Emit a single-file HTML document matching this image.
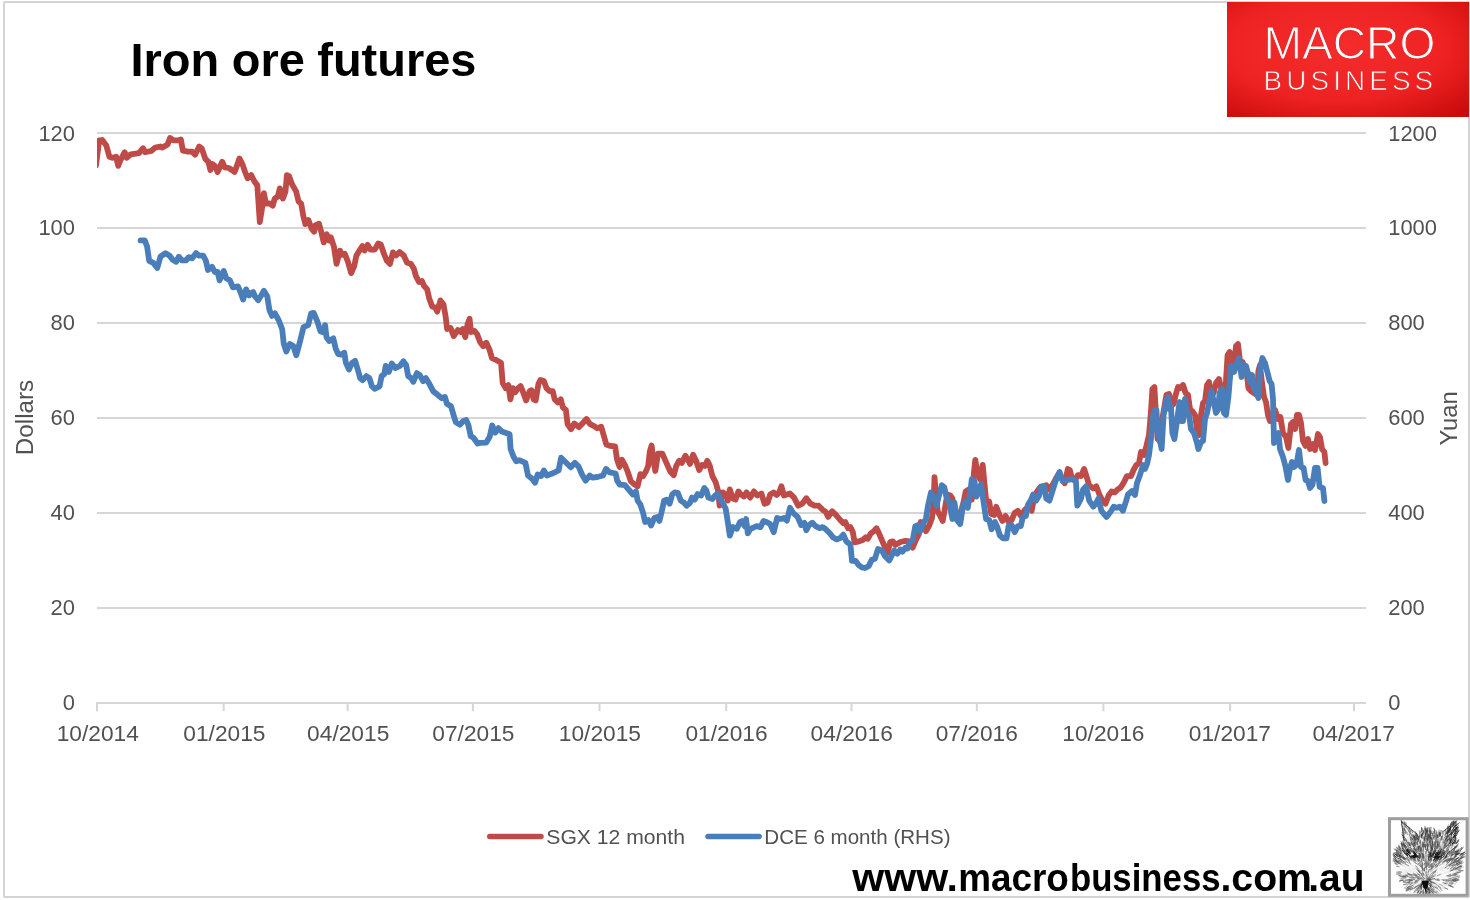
<!DOCTYPE html>
<html lang="en">
<head>
<meta charset="utf-8">
<title>Iron ore futures</title>
<style>
html,body{margin:0;padding:0;background:#fff;}
body{width:1470px;height:900px;overflow:hidden;}
svg{display:block;}
text{font-family:"Liberation Sans",sans-serif;}
</style>
</head>
<body>
<svg width="1470" height="900" viewBox="0 0 1470 900">
<defs>
<radialGradient id="lg" cx="0.45" cy="0.4" r="0.75">
<stop offset="0" stop-color="#F52D2D"/>
<stop offset="0.6" stop-color="#EE2222"/>
<stop offset="1" stop-color="#CC0C0C"/>
</radialGradient>
<clipPath id="plot"><rect x="97" y="100" width="1270" height="610"/></clipPath>
</defs>
<rect x="0" y="0" width="1470" height="900" fill="#ffffff"/>
<!-- chart border -->
<rect x="4" y="2" width="1465" height="895" rx="1" fill="none" stroke="#D4D4D4" stroke-width="2"/>

<g stroke="#D6D6D6" stroke-width="2" fill="none">
<line x1="97" y1="133" x2="1366" y2="133"/>
<line x1="97" y1="228" x2="1366" y2="228"/>
<line x1="97" y1="323" x2="1366" y2="323"/>
<line x1="97" y1="418" x2="1366" y2="418"/>
<line x1="97" y1="513" x2="1366" y2="513"/>
<line x1="97" y1="608" x2="1366" y2="608"/>
<line x1="96" y1="703" x2="1366" y2="703"/>
<line x1="97.0" y1="703" x2="97.0" y2="711.2"/>
<line x1="223.7" y1="703" x2="223.7" y2="711.2"/>
<line x1="347.6" y1="703" x2="347.6" y2="711.2"/>
<line x1="472.9" y1="703" x2="472.9" y2="711.2"/>
<line x1="599.5" y1="703" x2="599.5" y2="711.2"/>
<line x1="726.2" y1="703" x2="726.2" y2="711.2"/>
<line x1="851.5" y1="703" x2="851.5" y2="711.2"/>
<line x1="976.8" y1="703" x2="976.8" y2="711.2"/>
<line x1="1103.4" y1="703" x2="1103.4" y2="711.2"/>
<line x1="1230.1" y1="703" x2="1230.1" y2="711.2"/>
<line x1="1354.0" y1="703" x2="1354.0" y2="711.2"/>
</g>
<g fill="#515151" font-size="22px">
<text x="38.4" y="140.9" textLength="36.6" lengthAdjust="spacingAndGlyphs">120</text>
<text x="38.4" y="235.3" textLength="36.6" lengthAdjust="spacingAndGlyphs">100</text>
<text x="50.6" y="330.3" textLength="24.4" lengthAdjust="spacingAndGlyphs">80</text>
<text x="50.6" y="425.3" textLength="24.4" lengthAdjust="spacingAndGlyphs">60</text>
<text x="50.6" y="520.3" textLength="24.4" lengthAdjust="spacingAndGlyphs">40</text>
<text x="50.6" y="615.3" textLength="24.4" lengthAdjust="spacingAndGlyphs">20</text>
<text x="62.8" y="710.3" textLength="12.2" lengthAdjust="spacingAndGlyphs">0</text>
<text x="1388.2" y="140.9" textLength="48.8" lengthAdjust="spacingAndGlyphs">1200</text>
<text x="1388.2" y="235.3" textLength="48.8" lengthAdjust="spacingAndGlyphs">1000</text>
<text x="1388.2" y="330.3" textLength="36.6" lengthAdjust="spacingAndGlyphs">800</text>
<text x="1388.2" y="425.3" textLength="36.6" lengthAdjust="spacingAndGlyphs">600</text>
<text x="1388.2" y="520.3" textLength="36.6" lengthAdjust="spacingAndGlyphs">400</text>
<text x="1388.2" y="615.3" textLength="36.6" lengthAdjust="spacingAndGlyphs">200</text>
<text x="1388.2" y="710.3" textLength="12.2" lengthAdjust="spacingAndGlyphs">0</text>
<text x="56.7" y="741.3" textLength="82.2" lengthAdjust="spacingAndGlyphs">10/2014</text>
<text x="183.3" y="741.3" textLength="82.2" lengthAdjust="spacingAndGlyphs">01/2015</text>
<text x="307.1" y="741.3" textLength="82.2" lengthAdjust="spacingAndGlyphs">04/2015</text>
<text x="432.3" y="741.3" textLength="82.2" lengthAdjust="spacingAndGlyphs">07/2015</text>
<text x="558.8" y="741.3" textLength="82.2" lengthAdjust="spacingAndGlyphs">10/2015</text>
<text x="685.4" y="741.3" textLength="82.2" lengthAdjust="spacingAndGlyphs">01/2016</text>
<text x="810.6" y="741.3" textLength="82.2" lengthAdjust="spacingAndGlyphs">04/2016</text>
<text x="935.7" y="741.3" textLength="82.2" lengthAdjust="spacingAndGlyphs">07/2016</text>
<text x="1062.3" y="741.3" textLength="82.2" lengthAdjust="spacingAndGlyphs">10/2016</text>
<text x="1188.8" y="741.3" textLength="82.2" lengthAdjust="spacingAndGlyphs">01/2017</text>
<text x="1312.6" y="741.3" textLength="82.2" lengthAdjust="spacingAndGlyphs">04/2017</text>
</g>
<text transform="translate(32.9,455.2) rotate(-90)" fill="#515151" font-size="23.5px" textLength="75.4" lengthAdjust="spacingAndGlyphs">Dollars</text>
<text transform="translate(1457.3,445.4) rotate(-90)" fill="#515151" font-size="23.5px" textLength="54" lengthAdjust="spacingAndGlyphs">Yuan</text>
<g clip-path="url(#plot)">
<polyline points="96,165.5 99.2,140.4 102.2,140 106.3,145.5 109.4,156.7 112.4,157.8 116.1,156.7 118.2,165.9 120.6,159.8 124.7,152.2 126.7,157.8 130.8,154.3 139,153.1 143.1,148.2 145.1,152.2 151.2,151 155.3,147.6 160.4,146.5 162.4,147.6 167.6,144.5 170,138 173.7,140.4 177.8,140.4 180.8,139.4 182.9,150.6 188,151.6 192,151.6 195.1,154.7 199.2,146.5 201.8,148.6 205.3,158.8 208.4,161.8 210.4,170 212.4,163.9 214.9,165.9 217.6,172 222.2,161.8 224.7,167.3 228.8,168 231.8,170 234.5,172 236.9,165.9 239.4,158.4 242.7,164.9 245.1,172 247.6,178.2 251.2,175.1 254.3,181.2 257.3,185.3 259.8,222 261.8,209.8 263.9,193.1 265.9,203.7 269.6,203.3 272.7,205.7 274.7,198.6 277.8,196.5 279.8,188.4 282.9,198.6 285.5,191.4 286.9,175.1 289,176.1 292,184.3 296.1,191.4 298.6,201.6 301.2,203.7 303.3,215.9 305.3,224.1 308.4,220 311.4,228.2 314.1,231.8 315.5,225.1 319,223.7 321.6,233.3 323.7,242.4 326.7,234.3 328.8,240.4 330.8,237.3 333.9,246.5 336.5,263.9 340,250.6 342,254.7 344.7,253.7 347.6,260.8 351.2,273.1 354.3,265.9 356.3,255.7 359.4,250.6 362.4,246.1 364.5,250.6 367.6,244.9 370.6,249.6 374.7,249.6 378.2,243.5 380.8,244.5 383.9,253.7 386.9,260.8 390,263.9 392.9,252.4 396.1,255.5 399.6,252 403.7,255.5 407.1,262.7 410.8,263.7 413.9,268.8 415.9,275.9 419,282 422,281 424.1,286.1 427.1,289.2 429.2,298.4 432.2,306.5 435.3,307.6 437.3,311.6 440.4,300.4 443.5,304.5 445.5,315.7 447.1,329 450.6,328 453.7,336.1 457.8,330 460.8,332 462.9,329 465.3,337.1 467.6,323.9 469.6,318.8 471,332 474.5,331 477.1,334.1 480.2,342.2 483.3,346.3 486.3,342.7 489.4,349.4 492,358.2 496.5,360.2 501,362.7 502.7,383.1 505.7,388.2 508.4,385.1 510.4,399.4 512.9,388.2 515.3,392.2 518,388.2 520.6,386.1 523.1,392.2 526.1,400.4 529.6,391.2 531.6,390.2 533.7,399.4 535.7,400.4 538.4,384.1 540.4,380 543.9,381 546.5,388.2 549.6,391.2 552.7,391.2 554.7,399.4 557.8,402.4 560.8,399.4 562.9,407.6 565.9,410 567.6,424.1 571,429.2 574.3,423.5 578.8,427.1 582.4,423.5 586.5,419 590,424.1 594.1,426.1 597.1,428.2 601.2,426.7 603.7,435.3 606.3,444.5 610.4,445.9 615.1,446.5 617.1,459.8 619.6,466.9 622,459.8 625.3,465.9 627.8,472 630.8,481.2 634.3,484.3 637.6,486.3 640.4,474.1 643.1,476.1 646.1,471 648.2,465.9 649.8,451.6 651.6,445.5 653.3,459.8 655.3,471 658,453.7 662.4,453.7 665.5,460.8 668.2,466.9 670.6,472 673.7,475.1 676.3,465.9 679.2,460.8 681.8,462.9 685.3,455.7 688,459.8 690,463.9 693.1,454.7 696.1,460.8 699.2,470 702.2,464.9 704.9,465.9 707.3,460.8 709.8,465.9 712.4,476.1 715.5,481.8 718,490.4 719.6,505.7 722.7,492.4 725.7,494.5 727.8,500.6 729.8,489.4 732.9,498.6 735.5,499.6 738.4,491.4 741,494.5 744.1,496.5 746.5,492.4 750.2,497.6 753.9,491.4 757.3,495.5 761.4,493.5 764.5,503.7 767.6,502.7 770.2,494.5 773.7,492.4 776.7,494.9 779.2,492.4 781.4,486.3 783.9,495.5 786.5,494.5 790,493.5 794.1,497.6 798.2,505.7 802.2,503.7 806.3,498.2 810.4,503.7 814.5,505.7 818.6,505.7 822.7,509.8 825.7,511.8 828.2,516.9 832.2,511.2 835.9,514.9 840.2,520 843.3,523.1 845.3,522 848,528.2 850.4,527.1 852.9,532.2 854.5,542.4 858.6,541.4 862.7,540 865.7,537.3 867.8,538.8 870.8,533.3 873.9,531.2 876.5,528.2 879,533.3 882,540.4 885.1,547.6 887.6,552.7 890.2,542 892.9,541.4 895.3,544.9 900.4,542 905.5,540.8 909.6,541.4 912.7,547.6 915.7,540.4 918.8,534.3 920.8,522 922.9,524.1 925.9,531.2 929,526.1 932,518 933.7,501.6 934.5,477.1 936.1,497.6 937.8,511.8 940.2,515.9 942.7,521 944.7,509.8 947.3,494.5 950.4,495.5 952.4,498.6 954.9,509.8 957.6,515.9 960.6,512.9 963.7,501.6 965.7,491.4 968.8,489.4 971.8,499.6 973.9,473.1 975.3,459.8 977.3,473.1 980,479.2 982.7,464.9 984.1,479.2 986.1,500.6 989.2,501.6 991.2,513.9 994.3,514.9 996.3,506.7 999.4,514.9 1002.4,521 1005.5,515.9 1008.6,522 1011.6,520 1014.7,512.9 1017.8,510.8 1020.8,515.9 1024.9,509.8 1029,505.7 1031.6,510.8 1034.1,498.6 1037.1,491.4 1040.2,487.3 1043.3,486.3 1046.3,485.3 1049.4,489.4 1052.4,485.3 1055.5,479.2 1058.6,474.1 1061.6,478.2 1064.7,483.3 1067.8,469 1069.8,470 1071.8,478.2 1074.9,480.2 1078,475.1 1081,476.1 1084.1,469 1086.7,477.1 1089.2,485.3 1093.3,488.4 1096.3,486.3 1099.4,494.5 1102.4,500.6 1105.5,503.7 1108.6,495.5 1111.6,491.4 1114.7,492.4 1117.8,489.4 1120.8,487.3 1123.9,482.2 1126.9,476.1 1131,476 1134,469 1136.4,465 1139,463 1141,452 1144,455 1146.4,446 1149,435 1151,411 1152.4,389 1154.4,387 1156,415 1157.6,439 1159.6,441 1161.6,423 1164,409 1166.4,395 1169,394 1171,403 1173.6,404 1175.6,395 1178,387 1180.4,388 1183,385 1185.6,393 1188,395 1190,409 1193,412 1195,415 1197,429 1199,435 1201,415 1203,403 1205,401 1207,385 1209,382 1211,395 1213.6,393 1216,383 1219,379 1221,388 1223,395 1225.6,387 1227.6,355 1229.6,352 1231.6,367 1233.6,369 1236,346 1238,344 1240,361 1242.4,362 1245,368 1247,375 1248.4,388 1251,391 1254,393 1257,395 1258.4,371 1260,365 1262,383 1264,397 1266,402 1268,415 1270,421 1272.4,413 1275,410 1278,419 1280.4,417 1283,433 1286,437 1288.4,448 1291,424 1293,422 1295,429 1297,415 1299,415 1301,423 1303,441 1305.6,446 1308,439 1310,449 1313,444 1315,450 1318,434 1320,437 1322,449 1324.4,452 1325.6,463" fill="none" stroke="#BE4B48" stroke-width="5.8" stroke-linejoin="round" stroke-linecap="round"/>
<polyline points="140.6,240.4 144.7,240.4 147.1,246.5 149.2,260.8 153.3,262.9 157.3,268 160.4,256.7 165.5,253.1 169.6,255.7 172.7,259.8 176.1,261.8 178.8,256.7 181.8,260.4 185.9,260.4 189,257.1 192,258.4 196.1,253.1 199.2,255.7 203.3,255.7 205.9,260.8 208,270 212,266.9 214.9,272 217.6,272 219.6,280.2 223.7,271 226.3,278.2 229.8,280.2 232.9,287.3 238,286.3 241,293.5 243.1,299.6 246.1,289.4 249.2,295.5 250,293.5 253.1,292 255.1,296.5 258.2,300.2 261.2,295.5 263.9,290.8 267.3,296.5 269.4,309.8 272,315.9 274.9,313.3 278.6,320 282.2,329.2 283.7,343.5 286.3,351.6 289.8,343.9 293.3,345.9 296.3,355.3 300,341.4 303.5,327.1 308.2,325.1 311.2,313.3 313.7,312.9 317.3,321.4 320.4,331.2 323.1,332.2 325.1,325.1 326.5,337.3 329.2,341 333.3,338.4 335.7,348.6 338.2,354.1 341.4,354.7 344.3,352.7 345.9,362.9 349,369.6 352,362.9 355.1,360.8 358.2,371 360.2,378.2 362.7,380.2 366.3,376.1 369.4,378.2 372,386.3 374.5,388.8 379.6,386.3 381.6,376.1 384.3,374.1 385.7,365.9 388.8,372 391.8,363.5 395.3,368 400,365.9 403.5,361.4 406.1,364.9 408.2,376.1 411.2,378.2 413.3,381.8 416.9,373.1 419.8,375.1 423.1,381.2 425.9,378.2 429.6,384.3 433.3,391.4 437.8,394.9 441.8,398.2 444.9,396.9 446.9,403.7 451,406.3 454.1,416.9 455.7,422 459.8,424.7 463.3,421 466.3,420 468.4,425.1 470.8,436.3 473.5,437.8 477.6,443.5 480,442.9 486.1,442.7 489.7,436.7 492.2,425.5 495.3,432.7 498.4,428.1 501.9,431.6 509.6,434.2 510.6,449 513.7,457.1 516.2,461.2 519.3,460.2 525.4,462.8 528,475.5 532,478.6 535.1,482.7 537.7,474.5 541.2,476 543.8,470.4 546.8,475.5 553.5,473 558.6,470.4 561.1,457.7 565.7,462.2 570.8,467.3 574.9,462.8 578.5,466.3 582,474.5 585.6,480.6 589.7,475.5 592.2,477.6 597.3,477 603,475.5 606,468.9 609.6,472.4 615.7,473.5 617.2,480.6 619.8,484.7 624.9,485.2 632.9,494.5 635.9,491.4 637.6,500.6 640.4,504.7 643.1,512.9 645.1,522 648.2,520 651.2,525.5 654.3,518 657.3,516.9 659.4,521 661.4,512.9 664.1,500.6 666.5,499.6 669.6,503.7 672.2,494.5 674.7,492.4 677.8,492.9 680.8,500.6 683.9,502.7 686.5,505.7 690,502.7 692,497.6 694.7,499.6 697.6,494.1 701.2,495.5 704.3,488 706.3,490.4 708.4,497.6 712.4,499 715.1,495.5 717.6,493.5 720.6,499.6 723.3,503.7 725.7,508.8 727.8,522 729.8,535.7 732.9,527.1 736.9,528.8 740,522 742,521 744.7,526.1 746.1,519 747.8,533.3 750.2,529.2 753.3,527.6 756.7,526.1 760.4,527.1 763.5,521 766.5,522 770.2,524.1 773.7,532.2 777.1,518 780.8,519 783.9,518 786.9,520.6 790,507.8 793.1,512.9 797.6,516.9 801.2,525.1 804.3,522.7 806.3,530.2 809,525.1 812.4,522.7 815.5,526.1 819.6,528.2 822.7,527.1 825.7,529.2 829.8,533.3 832.9,537.3 836.3,539.4 840.2,538 843.3,534.7 846.3,541.4 850.4,544.5 852,560.8 855.5,560.8 858.6,564.9 861.6,567.3 865.1,568 868.8,565.9 871.8,559.8 874.9,558.8 878,549 882,550.6 885.1,556.3 889.2,560.4 892.2,554.7 894.3,550.6 897.3,553.7 900.4,549.6 902.4,551.6 905.5,547.6 907.6,548.6 909.6,542.4 912.7,540.4 915.3,526.1 917.8,525.1 920.2,531.2 922.9,524.1 925.9,519 928,505.7 931,492.4 934.1,498.6 936.5,505.7 939.2,494.5 941.8,485.3 944.3,487.3 946.3,496.5 949.4,503.7 952.4,519 954.5,502.7 956.9,520 960.2,524.1 962.7,507.8 965.1,501.6 967.8,507.8 970.4,491.4 971.8,479.2 974.5,481.2 976.5,496.5 979,490.4 981,484.3 983.5,501.6 986.1,519 989.2,520 991.6,529.2 994.9,522 997.3,527.1 999.8,535.3 1003.1,538.4 1006.5,538.4 1008.6,526.1 1011.6,525.1 1014.7,532.2 1017.8,526.1 1020.8,526.1 1022.9,516.9 1025.9,515.9 1028,504.7 1031,499.6 1033.1,494.5 1036.1,500.6 1039.2,495.5 1041.2,486.3 1044.3,486.3 1046.3,498.6 1049.4,500.6 1052.4,491.4 1055.5,481.2 1059.6,472 1062.7,481.2 1066.7,480.2 1071.8,479.2 1075.9,481.2 1077.3,505.7 1081,498.6 1083.1,489.4 1086.1,486.3 1089.2,500.6 1093.3,506.7 1096.3,502.7 1098.4,498.6 1101.4,510.8 1106.5,516.9 1110.6,511.8 1113.7,506.7 1116.7,507.8 1119.8,506.7 1122.9,510.8 1125.9,501.6 1128,494.5 1132,491 1135,495 1137,483 1140,475 1143,465 1145,469 1147,464 1149,455 1151,439 1153,415 1155,410 1156.4,410 1158,433 1160,441 1161.6,449 1163.6,415 1166,403 1168,397 1169.6,409 1171,407 1172.4,433 1174.4,439 1177,421 1179.6,402 1181.6,421 1183,421 1185,399 1187,414 1189,415 1191,429 1194,433 1197,443 1198.4,449 1201,442 1203,441 1205,419 1207,413 1209,403 1211.6,391 1213.6,401 1216,413 1218,410 1219.6,393 1222,389 1224,413 1226,415 1228.4,397 1231,366 1234,372 1236.4,365 1239,358 1241.6,377 1243.6,365 1246,366 1248,373 1250,382 1252,375 1254,389 1256,392 1258.4,398 1260,371 1262.4,358 1265,363 1267.6,373 1269.6,381 1271.6,384 1273,399 1274,443 1276,435 1278.4,433 1280,449 1283,457 1285.6,467 1288,480 1290,468 1292,462 1294,467 1296.4,465 1299,450 1301,467 1303.6,468 1305.6,480 1308,481 1310,488 1312.4,485 1315,468 1317.6,468 1319.6,487 1323,488 1324.4,501" fill="none" stroke="#4A7EBB" stroke-width="5.8" stroke-linejoin="round" stroke-linecap="round"/>
</g>
<text y="75.9" font-size="45.3px" font-weight="bold" fill="#000"><tspan x="130.46" textLength="88.76" lengthAdjust="spacingAndGlyphs">Iron</tspan> <tspan x="231.87" textLength="73.04" lengthAdjust="spacingAndGlyphs">ore</tspan> <tspan x="317.3" textLength="159.13" lengthAdjust="spacingAndGlyphs">futures</tspan></text>
<line x1="489.7" y1="836.5" x2="541" y2="836.5" stroke="#BE4B48" stroke-width="5.4" stroke-linecap="round"/>
<text x="546.3" y="844" font-size="21px" fill="#515151" textLength="138.7" lengthAdjust="spacingAndGlyphs">SGX 12 month</text>
<line x1="708" y1="836.5" x2="759.2" y2="836.5" stroke="#4A7EBB" stroke-width="5.4" stroke-linecap="round"/>
<text x="764.3" y="844" font-size="21px" fill="#515151" textLength="186.2" lengthAdjust="spacingAndGlyphs">DCE 6 month (RHS)</text>
<text y="890.8" font-size="39.5px" font-weight="bold" fill="#000"><tspan x="852.22" textLength="105.77" lengthAdjust="spacingAndGlyphs">www.</tspan><tspan x="958.17" textLength="110.67" lengthAdjust="spacingAndGlyphs">macro</tspan><tspan x="1069.91" textLength="150.62" lengthAdjust="spacingAndGlyphs">business</tspan><tspan x="1220.44" textLength="91.49" lengthAdjust="spacingAndGlyphs">.com</tspan><tspan x="1308.26" textLength="56.2" lengthAdjust="spacingAndGlyphs">.au</tspan></text>
<rect x="1227" y="2" width="242" height="115" fill="url(#lg)"/>
<text x="1263.4" y="59.2" font-size="45.4px" fill="#fff" stroke="#EE2323" stroke-width="1.0" textLength="172" lengthAdjust="spacingAndGlyphs">MACRO</text>
<text x="1263.6" y="89.7" font-size="27.9px" fill="#fff" stroke="#EA2020" stroke-width="0.75" textLength="169.6" lengthAdjust="spacing">BUSINESS</text>
<g id="fox">
<rect x="1389.5" y="818.7" width="77.6" height="76.6" fill="#ffffff" stroke="#9E9E9E" stroke-width="3"/>
<clipPath id="foxclip"><rect x="1391" y="820.2" width="74.6" height="73.6"/></clipPath>
<g clip-path="url(#foxclip)">
<polygon points="1401.5,821.2 1407.5,827.0 1414.0,833.5 1418.5,834.0 1423.0,830.0 1430.0,830.5 1438.0,831.5 1442.0,833.5 1449.0,825.0 1456.5,821.2 1457.0,830.0 1456.0,840.0 1457.5,848.0 1461.0,848.0 1463.5,854.0 1462.5,862.0 1460.5,870.0 1456.5,879.0 1450.0,886.5 1441.0,890.0 1432.0,893.2 1425.5,894.2 1420.0,893.0 1410.0,889.0 1403.5,882.5 1399.0,875.0 1398.5,866.5 1394.0,862.0 1395.2,855.5 1397.8,848.5 1401.5,845.0 1404.5,843.0 1402.5,833.0" fill="#ededed"/>
<path d="M1438.7 882.1L1440.9 883.0M1407.5 885.0L1403.9 886.2M1416.0 870.2L1414.2 868.9M1409.9 885.2L1407.6 885.5M1433.7 872.3L1436.1 870.7M1409.1 834.6L1407.5 831.4M1404.0 864.0L1402.4 862.8M1446.5 883.6L1449.9 884.6M1407.4 827.8L1406.2 825.6M1445.9 886.8L1448.7 888.9M1412.2 873.5L1408.4 873.2M1438.3 873.0L1440.0 872.0M1449.8 868.2L1452.7 867.8M1415.9 865.6L1414.1 862.3M1436.7 871.8L1439.1 870.9M1444.9 875.7L1447.9 875.5M1449.7 872.8L1452.9 871.2M1403.6 868.2L1399.6 867.4M1446.2 867.4L1449.6 866.2M1435.3 871.5L1437.9 869.7M1411.9 875.1L1408.6 873.3M1439.5 878.0L1441.3 878.4M1446.8 868.6L1449.1 867.9M1435.7 874.8L1438.7 874.0M1439.2 880.9L1441.4 881.5M1438.8 867.2L1442.5 864.9M1413.5 865.5L1411.9 862.6M1414.6 879.9L1411.5 880.2M1413.6 867.9L1410.6 865.4M1410.8 837.4L1410.3 835.6M1406.7 867.2L1404.4 864.5M1416.4 873.4L1414.5 872.6M1411.0 835.2L1409.0 832.2M1412.7 882.2L1408.8 882.3M1443.1 870.1L1445.8 868.8M1450.9 870.8L1454.4 868.8M1438.0 867.5L1441.5 865.3M1416.3 884.5L1412.8 886.4M1409.9 876.4L1407.9 876.5M1419.4 869.6L1418.2 867.3M1411.6 861.8L1410.0 859.7M1420.7 869.7L1419.8 866.1M1444.1 875.0L1447.9 874.7M1441.7 872.9L1443.6 872.7M1438.1 871.7L1441.7 870.7M1442.9 865.9L1446.3 863.7M1406.0 880.4L1403.5 879.9M1438.4 888.3L1442.0 889.6M1447.7 869.7L1451.4 867.8M1441.0 878.2L1443.6 878.3M1443.5 877.4L1447.8 878.2M1419.7 866.1L1419.0 862.6M1403.5 871.4L1400.0 870.8M1409.8 884.7L1406.7 886.2M1438.0 869.4L1440.4 866.3M1419.2 872.7L1417.4 870.6M1408.7 869.7L1406.4 868.3M1438.8 882.4L1440.9 883.5M1406.2 834.9L1405.1 831.4M1407.4 863.6L1406.3 861.9M1435.0 881.4L1439.0 881.6M1412.5 870.2L1410.3 868.2M1444.0 875.0L1447.9 873.4M1404.7 868.0L1401.2 867.2M1405.3 869.6L1403.0 868.7M1446.4 875.6L1449.0 874.7M1437.9 882.7L1441.6 883.4M1416.6 864.8L1415.4 862.5M1410.5 862.1L1407.6 859.0M1415.0 864.0L1414.3 862.0M1415.0 873.5L1412.0 872.7M1400.7 869.4L1397.4 867.8M1448.6 869.6L1450.8 868.3M1445.6 870.7L1448.7 868.7M1441.4 875.7L1445.5 874.6M1410.0 882.7L1406.1 882.8M1440.3 877.0L1443.9 877.0M1408.7 829.7L1407.5 827.6M1437.3 884.1L1439.9 885.7M1447.8 875.9L1449.9 876.2M1442.9 874.3L1445.9 874.3M1435.4 880.7L1437.7 881.7M1435.4 877.8L1439.3 878.1M1414.7 865.7L1412.2 863.7M1405.5 835.2L1404.0 832.8M1444.5 881.5L1446.6 881.6M1445.1 871.5L1447.5 870.5M1433.9 870.4L1435.9 866.9M1410.7 864.2L1409.3 861.7M1451.7 872.2L1454.1 871.7M1408.6 878.7L1406.7 878.1M1448.2 885.0L1450.2 886.2M1410.4 864.6L1408.2 862.9M1436.7 877.5L1440.1 876.4M1414.8 866.2L1413.2 864.5M1401.1 866.5L1399.4 865.6M1410.1 867.5L1407.9 865.3M1410.7 865.4L1407.7 863.9M1408.4 865.8L1405.1 863.5M1446.1 877.5L1448.6 877.8M1409.3 835.5L1408.6 832.2M1414.7 864.7L1413.0 862.4M1448.0 870.3L1451.0 868.7M1449.2 876.0L1453.5 875.2M1439.4 880.9L1443.7 881.9M1446.4 886.9L1450.6 887.1M1415.0 882.9L1411.2 883.4M1445.7 878.2L1449.1 879.0M1444.5 869.9L1447.9 868.9M1401.7 870.6L1399.0 869.7M1408.7 864.1L1406.3 860.5M1411.9 864.3L1410.1 861.6M1406.6 838.0L1406.0 833.8M1435.6 875.8L1438.3 875.3M1400.1 870.8L1396.5 869.4M1410.9 874.9L1408.9 874.6M1436.2 875.6L1439.4 873.6M1439.1 873.9L1442.8 871.5M1433.8 872.7L1435.3 871.8M1412.6 867.7L1409.0 865.5M1444.0 882.4L1446.1 883.2M1441.9 876.3L1445.1 875.4" stroke="#ffffff" stroke-width="0.8" fill="none" stroke-linecap="round"/>
<path d="M1441.3 864.6L1443.0 863.2M1415.5 877.6L1413.0 877.3M1436.3 866.1L1437.9 864.1M1452.3 870.1L1455.6 869.2M1412.8 833.6L1412.0 830.6M1398.9 872.3L1396.8 871.8" stroke="#e0e0e0" stroke-width="0.8" fill="none" stroke-linecap="round"/>
<path d="M1432.2 885.7L1433.6 887.8M1416.7 860.9L1414.2 858.1M1456.4 869.6L1460.3 868.4M1448.0 865.6L1449.6 864.1M1420.9 888.1L1420.5 890.1M1433.6 886.0L1435.9 887.8M1457.7 867.5L1459.7 866.0M1397.5 865.0L1395.6 864.5M1421.6 863.0L1421.3 860.8M1411.5 860.3L1410.2 857.8M1459.1 867.4L1463.3 867.0M1456.2 871.6L1460.4 871.8M1423.4 874.5L1422.1 871.3M1431.4 871.5L1432.9 870.5M1404.4 834.2L1404.0 832.0M1453.5 868.8L1456.0 867.6M1422.6 868.7L1421.7 864.9M1451.1 868.6L1454.1 866.4M1401.3 875.2L1399.4 875.0M1424.6 863.0L1424.8 858.7M1401.4 878.6L1399.6 878.2M1420.5 883.9L1418.3 885.8M1408.8 845.2L1407.5 842.8M1447.1 865.5L1449.6 864.7M1431.7 887.7L1433.5 891.8M1457.6 865.0L1459.5 864.6M1408.5 860.8L1406.0 857.6M1441.1 846.0L1441.0 843.7M1427.3 863.5L1427.0 859.3M1418.8 877.7L1416.0 876.9M1401.1 875.4L1398.9 875.1M1400.4 874.2L1398.2 873.6M1422.4 864.8L1421.5 863.1M1419.6 879.5L1416.0 879.1M1452.5 883.5L1455.6 884.0M1457.9 870.7L1460.9 870.0M1441.9 849.0L1441.7 847.0M1444.3 846.3L1446.4 843.7M1407.9 861.0L1404.5 858.8M1412.2 840.5L1410.1 837.2M1416.8 876.2L1413.6 874.2M1448.8 882.1L1452.0 881.8M1441.0 847.8L1440.9 845.1M1430.8 869.7L1431.6 868.1M1432.9 868.0L1435.4 865.3M1415.9 860.8L1414.8 858.2M1419.0 887.2L1415.4 889.8M1412.4 837.0L1411.5 834.3M1418.4 890.7L1417.4 894.0M1417.2 876.2L1413.6 873.8" stroke="#c0c0c0" stroke-width="0.8" fill="none" stroke-linecap="round"/>
<path d="M1405.5 846.2L1403.0 842.5M1399.4 861.9L1397.4 860.0M1422.9 847.4L1422.5 845.1M1429.9 836.2L1430.3 831.9M1428.9 867.7L1430.7 864.2M1446.5 881.0L1448.9 881.8M1424.0 857.3L1423.6 854.2M1417.8 882.0L1414.1 884.4M1448.5 864.7L1451.3 863.5M1457.2 876.2L1459.1 876.3M1441.7 879.5L1443.7 879.7M1427.5 856.7L1427.2 854.3M1446.9 850.4L1448.4 848.6M1428.5 837.3L1428.5 835.1M1421.3 836.7L1420.9 834.8M1421.3 886.8L1418.7 890.4M1413.4 846.9L1411.0 843.2M1408.4 847.2L1407.5 844.4M1427.0 891.0L1427.5 893.5M1423.9 857.2L1422.8 853.4M1445.3 881.3L1449.4 881.1M1455.9 867.9L1459.3 867.0M1407.4 885.7L1404.1 888.1M1402.2 865.0L1399.5 862.7M1419.4 879.8L1417.5 879.8M1456.2 868.9L1457.8 867.7M1450.4 879.2L1452.7 879.6M1445.0 839.3L1445.6 836.2M1455.8 878.4L1459.7 877.1M1410.4 875.5L1408.3 874.4M1446.9 835.7L1448.6 832.6M1455.1 876.4L1457.6 876.0M1433.3 873.4L1435.4 872.4M1434.8 868.4L1438.0 865.7M1441.6 849.9L1442.2 847.2M1416.6 890.0L1414.7 892.8M1417.7 878.0L1415.3 877.1M1428.3 845.6L1428.1 843.2M1414.4 861.9L1413.6 859.5M1434.8 836.8L1434.2 833.8M1429.2 834.5L1428.7 830.8M1429.7 875.2L1431.2 873.8M1419.9 875.9L1416.9 872.8M1403.6 834.3L1402.8 832.1M1430.1 882.6L1432.2 884.3M1442.8 863.2L1445.7 860.0M1445.9 833.2L1447.7 831.0M1426.0 861.2L1426.1 858.6M1428.2 842.0L1428.5 839.8M1426.3 867.0L1427.5 862.9M1458.3 870.1L1460.4 870.1M1447.1 869.0L1448.9 868.4M1442.3 849.9L1444.0 848.0M1444.2 845.4L1445.8 842.9M1430.9 867.5L1431.9 863.8M1434.2 861.7L1435.2 859.4M1437.2 884.9L1438.9 886.3M1445.8 846.1L1448.3 842.9M1400.9 861.3L1397.0 859.6M1396.4 862.1L1393.5 859.5M1417.7 888.4L1416.7 890.5M1405.4 840.8L1403.7 838.5M1407.7 874.8L1405.7 874.9M1458.3 862.4L1460.9 860.1M1447.3 827.8L1448.5 824.7M1424.2 831.4L1424.6 829.2M1409.6 860.7L1406.7 857.2M1430.8 882.5L1435.0 883.9M1417.0 851.2L1416.6 848.7M1455.3 879.9L1457.7 880.1M1422.2 862.0L1421.4 858.5M1414.2 878.2L1411.4 878.1M1443.5 848.4L1444.3 846.6M1425.7 872.8L1426.0 871.0M1436.4 850.8L1436.1 848.6M1417.9 890.1L1417.1 892.7M1455.9 822.3L1457.7 818.8M1438.5 889.6L1440.7 892.2M1421.2 878.4L1417.0 877.4M1408.8 847.0L1407.8 844.6M1406.1 864.2L1404.3 862.4M1431.8 851.9L1432.4 848.3M1420.4 891.5L1419.2 893.7M1405.3 863.2L1403.4 862.0M1414.7 849.2L1414.5 846.9M1421.4 849.3L1420.8 845.1M1404.6 876.5L1401.0 875.9M1433.4 847.0L1433.1 845.0M1432.1 876.2L1435.7 874.5M1453.2 870.0L1456.3 868.7M1425.0 861.7L1423.8 857.9M1408.5 882.5L1406.1 882.7M1424.0 892.0L1423.5 894.2M1432.8 867.0L1433.9 864.5M1419.3 885.8L1418.0 888.1M1426.1 877.3L1426.2 875.0M1439.3 884.1L1442.6 885.7M1426.8 831.5L1426.3 829.2M1421.3 878.7L1417.5 878.2M1443.3 834.8L1443.9 831.7M1405.3 833.1L1404.7 829.3M1409.2 876.3L1405.4 876.3M1424.4 871.3L1424.5 867.5M1438.7 864.4L1441.3 861.8M1409.7 883.6L1406.5 884.9M1455.6 876.9L1459.7 875.9M1412.4 888.7L1409.8 891.7M1453.6 869.1L1455.4 868.7M1453.3 875.4L1457.4 874.1M1422.7 873.0L1422.1 870.6M1407.4 834.6L1407.0 832.5M1406.8 842.4L1406.1 840.5M1405.5 878.3L1401.5 878.9M1410.1 834.0L1409.7 831.9M1452.4 877.3L1454.9 877.1M1444.6 847.1L1446.7 845.1M1418.3 860.0L1417.5 857.1M1444.0 887.7L1448.0 889.6M1449.2 866.9L1452.2 865.2M1438.7 862.1L1440.4 859.2M1431.9 890.7L1432.6 893.8M1428.8 859.7L1429.8 856.3M1452.4 865.6L1456.0 864.2M1456.5 855.5L1458.2 854.3M1413.5 886.6L1410.0 889.0M1415.2 844.9L1414.7 842.0M1444.2 846.6L1445.9 843.2M1426.8 877.6L1428.3 874.6M1424.6 893.7L1425.2 896.1M1409.3 849.5L1407.9 846.5M1413.0 876.8L1410.9 876.6M1426.8 858.2L1426.3 854.5M1419.8 878.8L1417.5 879.2M1446.6 851.3L1448.1 849.1M1430.3 843.1L1430.3 840.7M1430.0 831.2L1429.7 828.8M1442.2 864.1L1444.2 861.7M1420.0 851.3L1421.0 847.2M1429.8 834.9L1430.4 830.5M1435.1 867.1L1436.4 865.4M1433.4 888.4L1435.0 889.7M1407.1 845.5L1406.1 843.9M1420.3 844.2L1420.1 839.9M1426.6 877.2L1428.1 874.1M1423.3 864.7L1421.9 862.0M1415.3 838.3L1414.1 834.3M1405.4 840.4L1404.4 836.7M1403.0 834.7L1401.9 832.8M1424.9 834.9L1424.5 831.4M1414.0 884.8L1410.1 886.8M1444.3 846.7L1446.4 843.4M1429.8 840.9L1429.4 837.1M1410.6 860.3L1408.4 858.0M1423.5 892.3L1422.7 894.2M1408.6 831.9L1408.0 829.4M1427.8 847.6L1428.1 844.5M1454.9 858.0L1456.4 856.6M1406.6 828.0L1405.7 824.3M1408.6 829.0L1407.3 826.1M1404.5 824.9L1404.0 821.4M1400.9 864.2L1396.9 862.5M1422.5 866.7L1421.9 864.9M1456.8 852.3L1459.7 848.9M1413.5 846.5L1412.8 842.9M1411.9 859.8L1410.4 857.3M1407.8 880.0L1405.2 879.8M1406.8 843.4L1405.6 839.2M1429.2 832.7L1429.3 830.1M1430.7 887.0L1432.5 889.4M1425.3 862.3L1425.3 857.9M1423.4 893.2L1422.4 895.4M1461.1 864.2L1463.7 862.2M1425.9 879.2L1428.3 881.4M1428.4 860.5L1428.2 858.1M1426.1 891.8L1426.3 894.7M1439.1 835.3L1440.0 831.0M1426.5 842.2L1426.8 840.2M1421.0 838.0L1420.5 835.9M1456.9 869.7L1460.1 869.3M1423.4 860.6L1424.1 856.8M1431.4 873.5L1435.4 871.5M1395.3 862.0L1392.7 861.0M1445.6 861.2L1448.7 858.4M1454.9 848.1L1456.7 847.0M1421.6 874.0L1418.7 871.1M1457.4 868.2L1461.8 867.9M1403.1 823.3L1401.3 819.7M1421.3 844.7L1420.5 841.5M1407.4 882.5L1403.0 882.1M1439.4 842.7L1439.9 840.4M1432.6 877.0L1435.3 875.7M1442.5 846.0L1443.1 844.0M1454.2 873.8L1457.6 872.6M1442.1 836.8L1442.9 834.1M1398.3 862.2L1394.7 860.9M1425.7 861.9L1426.0 858.9M1408.6 830.6L1407.3 828.1M1454.5 863.2L1457.2 861.2M1439.4 865.9L1441.0 864.3M1422.5 878.9L1420.2 878.1M1402.5 879.1L1400.6 879.2M1400.4 847.2L1398.6 845.9M1435.6 879.9L1439.0 880.7M1456.2 847.7L1458.2 846.2M1440.6 842.3L1439.8 838.4M1400.1 874.1L1396.1 874.4M1425.3 831.0L1425.8 827.1M1439.2 843.1L1438.3 838.8M1404.6 826.1L1402.6 823.3M1420.2 871.5L1419.1 869.5M1406.5 826.7L1406.2 822.8M1430.4 851.7L1430.1 849.4M1453.5 850.5L1455.7 847.4M1426.8 891.4L1427.5 893.8M1401.1 876.6L1399.1 875.9M1427.8 865.6L1428.2 862.3" stroke="#a0a0a0" stroke-width="0.8" fill="none" stroke-linecap="round"/>
<path d="M1415.5 863.4L1413.7 861.2M1411.2 849.7L1409.3 847.4M1423.1 848.2L1423.4 845.0M1448.2 885.0L1451.0 885.6M1433.4 860.4L1434.3 858.6M1408.5 848.7L1407.6 845.3M1427.9 892.6L1428.5 894.7M1446.7 843.0L1447.8 839.0M1426.8 835.3L1427.4 831.6M1455.8 852.9L1458.3 849.3M1411.2 859.4L1409.6 855.4M1442.9 849.3L1444.6 845.2M1415.7 843.5L1414.5 840.6M1429.2 892.1L1429.5 894.0M1450.2 883.0L1452.5 883.7M1438.0 835.7L1438.3 832.0M1419.4 857.5L1418.6 855.4M1460.0 871.0L1462.9 870.7M1424.3 844.2L1424.3 842.4M1411.8 875.1L1409.3 874.2M1412.8 839.3L1411.4 835.2M1404.7 859.3L1402.8 856.1M1410.2 888.4L1406.8 889.3M1430.7 853.1L1430.6 850.5M1443.9 847.6L1444.5 845.1M1437.3 865.7L1439.6 862.9M1440.2 848.8L1439.9 847.1M1426.0 878.4L1428.0 876.3M1408.5 851.9L1407.9 849.8M1403.2 854.8L1400.7 852.8M1447.8 876.6L1451.0 875.9M1429.6 834.2L1429.8 832.4M1444.9 887.9L1447.5 888.9M1431.1 868.9L1432.7 864.7M1405.9 826.1L1405.1 822.2M1452.1 880.4L1454.8 879.8M1435.1 866.2L1436.4 864.2M1422.0 867.7L1420.9 865.1M1436.8 891.1L1438.5 893.1M1403.3 847.9L1401.9 846.7M1445.8 855.2L1447.3 853.3M1430.4 840.6L1429.8 836.4M1421.0 865.1L1420.6 860.8M1455.5 878.8L1458.8 879.0M1412.3 887.0L1408.9 887.9M1429.3 840.7L1429.5 837.0M1423.2 878.3L1420.8 877.4M1423.4 854.4L1422.9 850.8M1431.8 832.9L1431.8 830.9M1423.1 851.9L1422.8 849.5M1430.6 837.2L1430.3 835.1M1448.0 880.3L1451.7 880.8M1427.5 880.0L1430.8 881.3M1422.0 860.2L1421.6 855.8M1432.1 867.7L1433.3 865.6M1402.2 851.8L1400.0 849.3M1406.5 847.5L1405.1 846.2M1421.7 861.7L1421.2 858.8M1451.1 855.9L1452.8 853.2M1395.4 862.5L1393.1 860.4M1430.3 881.4L1433.7 882.9M1435.8 886.6L1437.8 888.4M1449.4 861.2L1452.0 859.3M1398.0 850.1L1396.4 847.1M1430.2 840.1L1430.2 837.8M1407.8 875.8L1405.9 875.1M1432.9 882.2L1436.7 884.5M1418.8 839.1L1419.4 835.0M1434.1 886.8L1437.4 888.6M1405.7 844.0L1405.2 842.2M1412.2 882.3L1408.6 883.2M1422.2 831.2L1421.6 827.9M1458.2 866.6L1461.0 865.5M1436.4 862.8L1437.9 859.4M1421.0 853.3L1420.0 851.1M1453.1 881.1L1456.8 882.0M1446.8 855.9L1450.1 853.1M1448.5 884.9L1451.8 886.6M1422.5 857.8L1422.7 855.6M1396.9 851.2L1394.0 849.0M1452.5 864.0L1455.0 862.0M1432.5 840.6L1433.3 837.4M1430.3 881.3L1431.9 882.4M1434.5 891.3L1435.8 893.3M1453.4 844.2L1455.4 842.5M1435.9 891.3L1436.9 893.5M1405.1 847.0L1402.4 843.4M1431.7 840.9L1432.0 837.6M1409.7 830.4L1408.1 826.7M1406.3 848.0L1404.5 844.1M1436.3 837.2L1436.5 834.2M1446.6 832.6L1448.2 829.5M1423.5 889.1L1422.1 892.9M1422.2 836.3L1422.2 834.3M1397.2 855.4L1394.2 853.0M1417.1 875.1L1413.2 873.0M1444.0 843.9L1445.4 840.6M1447.9 831.2L1448.3 828.8M1402.5 848.4L1401.2 844.9M1432.5 842.4L1431.8 838.3M1421.3 884.9L1420.4 887.5M1444.5 845.4L1446.4 843.5M1459.2 870.9L1463.0 870.6M1429.4 867.6L1430.4 864.9M1425.5 853.7L1425.2 851.5M1418.8 877.7L1417.0 876.9M1450.7 863.2L1452.4 861.3M1434.9 861.7L1436.3 859.4M1445.5 840.0L1447.8 836.9M1428.7 867.6L1430.0 864.9M1408.1 876.6L1405.2 875.5M1427.2 889.4L1426.9 891.5M1411.4 844.5L1411.1 842.2M1421.6 851.4L1421.5 848.7M1423.3 860.6L1422.1 857.0M1428.8 893.4L1429.2 897.8M1425.7 863.4L1426.0 860.3M1417.8 861.1L1417.0 857.2M1440.2 888.6L1442.2 890.9M1410.6 833.8L1408.5 830.0M1431.9 888.1L1433.9 890.3M1418.5 849.3L1417.8 845.0M1446.5 848.9L1449.0 845.4M1451.3 870.1L1455.4 868.8M1454.0 861.4L1456.0 860.6M1409.6 882.1L1407.3 882.2M1414.4 838.2L1413.2 835.1M1438.5 837.5L1438.5 833.7M1425.2 839.3L1425.6 836.7M1426.5 833.2L1426.4 830.8M1428.2 877.6L1431.2 875.4M1426.4 878.8L1428.9 877.5M1417.6 864.6L1415.4 862.5M1450.5 851.8L1452.2 849.7M1442.7 853.5L1444.2 852.0M1409.6 886.2L1407.3 887.5M1454.9 878.9L1459.2 879.9M1414.6 843.5L1413.8 839.2M1415.5 890.1L1413.8 892.5M1417.8 849.9L1417.0 847.7M1446.4 857.7L1449.6 855.7M1413.0 836.8L1411.1 833.6M1421.1 890.9L1419.3 894.6M1448.0 878.9L1451.8 878.2M1418.6 851.7L1419.0 848.5M1421.0 847.0L1420.6 844.5M1450.6 859.1L1452.6 857.9M1408.2 863.0L1405.5 861.0M1418.6 885.5L1414.9 887.7M1446.9 862.8L1449.0 861.9M1410.7 889.1L1406.9 891.2M1453.2 861.8L1456.1 859.9M1435.3 879.6L1438.5 878.9M1451.7 880.4L1455.2 879.8M1433.9 836.6L1433.5 834.8M1410.0 885.9L1407.1 888.5M1458.7 859.1L1461.9 857.5M1401.8 857.2L1400.2 855.3M1419.7 833.3L1420.2 831.1M1409.0 865.8L1405.1 864.0M1425.9 874.0L1426.6 871.6M1403.4 844.6L1401.4 842.5M1424.3 881.0L1422.9 882.4M1425.0 857.7L1425.3 854.9M1430.3 862.0L1431.1 859.6M1418.0 876.6L1414.8 874.8M1435.4 851.3L1436.0 847.3M1404.3 845.7L1402.5 843.4M1444.6 846.1L1446.1 842.1M1415.3 877.7L1412.6 877.8M1427.6 839.6L1427.3 836.6M1414.0 877.3L1412.0 877.4M1405.4 860.0L1403.5 858.8M1412.0 875.3L1407.8 874.2M1416.3 833.8L1415.7 831.6M1439.5 862.7L1440.8 861.3M1445.3 832.7L1445.7 829.8M1429.8 892.2L1430.1 894.0M1429.1 887.0L1430.2 890.6M1409.0 860.8L1406.5 857.1M1425.0 831.6L1424.7 828.7M1443.0 882.5L1446.1 883.9M1404.1 847.9L1402.7 844.8M1417.1 849.5L1416.9 847.0M1447.7 832.0L1448.2 828.9M1444.8 852.0L1446.3 850.3M1428.8 888.6L1429.0 892.6M1403.3 848.7L1401.7 846.2M1449.0 885.7L1452.9 887.1M1406.4 877.4L1402.0 877.2M1425.6 848.2L1425.9 845.1M1412.6 885.5L1409.9 886.5M1423.7 860.0L1423.2 857.2M1428.5 855.0L1429.1 852.7M1412.1 877.7L1409.2 877.2M1415.4 858.6L1414.2 856.8M1439.0 832.6L1439.0 829.9M1440.5 852.8L1441.7 848.8M1404.8 826.3L1404.5 822.1M1418.6 885.0L1415.2 886.9M1432.9 889.4L1434.2 893.1M1417.6 851.9L1416.7 849.8M1423.5 832.3L1423.0 829.8M1421.2 834.8L1420.7 832.1M1402.8 823.8L1401.0 820.9M1417.1 850.4L1416.2 847.8M1417.5 851.7L1416.5 849.0M1448.9 854.6L1451.3 851.7M1415.8 861.4L1414.1 858.4M1419.3 853.9L1419.1 850.4M1455.9 853.3L1458.6 851.5M1399.0 866.8L1396.5 866.2M1449.3 841.7L1451.9 839.0M1458.3 861.5L1460.4 860.9M1418.6 880.5L1415.2 881.7M1427.5 848.7L1427.5 846.9M1448.0 842.5L1450.4 839.8M1450.7 853.1L1452.6 851.9M1444.5 837.9L1445.9 835.4M1444.6 836.1L1446.4 833.0M1396.9 854.0L1394.4 852.4M1452.4 824.6L1453.3 820.4M1419.0 871.6L1416.5 868.8M1430.5 831.7L1431.1 827.3M1426.4 853.4L1426.8 851.4M1447.5 866.1L1451.3 864.7M1401.0 853.3L1400.0 851.3M1425.9 876.0L1426.7 874.0M1438.6 861.9L1439.7 859.2M1451.0 848.5L1452.9 845.2M1425.0 892.7L1425.3 894.6M1405.1 846.4L1404.3 844.1M1432.5 869.0L1433.5 866.0M1450.7 854.3L1453.3 851.3M1455.0 823.4L1456.6 819.8M1415.9 836.4L1415.2 832.6M1408.3 860.3L1407.0 858.3M1434.1 833.8L1434.4 831.6M1440.2 835.2L1440.8 833.0M1449.8 855.6L1451.9 853.1M1462.6 857.6L1466.5 856.3M1422.2 831.1L1422.6 828.3M1446.7 843.2L1447.9 840.1M1406.9 880.2L1403.7 881.2M1409.9 846.2L1408.4 843.7M1446.8 850.7L1448.9 847.4M1430.5 871.0L1431.4 869.0M1455.5 847.4L1457.7 845.1M1429.9 842.8L1429.9 840.9M1430.8 865.4L1431.8 863.7M1446.2 861.6L1449.2 860.1M1418.1 868.8L1415.7 865.6M1430.8 861.6L1431.5 858.4M1402.6 826.8L1401.3 824.6M1430.7 843.1L1430.8 840.5M1417.5 887.5L1416.1 889.4M1419.5 863.7L1418.7 860.2M1399.0 872.0L1397.0 872.0M1413.1 859.1L1411.6 855.8M1400.4 873.3L1396.5 873.0M1446.4 864.9L1448.3 862.6M1401.9 852.9L1400.1 849.4M1400.7 862.2L1398.4 861.3M1449.3 883.5L1452.1 884.3M1402.8 876.4L1400.4 876.3M1421.1 885.3L1418.3 888.6M1421.5 837.4L1421.8 834.2M1433.5 833.3L1433.6 831.5M1430.8 866.5L1431.4 863.9M1438.6 846.0L1438.5 841.6M1410.9 844.9L1409.7 842.5M1425.8 836.2L1425.2 833.1M1450.9 882.0L1453.2 882.9M1400.5 862.5L1396.9 861.3M1433.2 863.8L1433.9 860.5M1462.8 858.1L1464.4 856.9M1406.6 832.4L1404.5 829.7M1400.6 876.0L1398.4 875.1M1456.3 862.2L1458.7 859.8M1411.4 879.3L1409.5 879.4M1412.1 860.2L1410.5 856.2M1419.8 843.8L1418.8 839.7M1400.2 854.8L1397.4 853.2M1404.2 846.4L1401.3 843.7M1452.8 877.9L1456.2 878.6M1420.3 876.9L1416.2 876.3M1441.0 849.1L1440.4 846.4M1448.7 847.8L1450.5 844.3M1432.7 874.4L1435.6 871.3M1419.3 855.7L1417.8 852.5M1443.8 861.2L1446.7 859.2M1421.0 883.6L1418.7 885.6M1403.8 831.9L1403.1 829.0M1404.2 840.2L1403.1 837.4M1431.1 841.7L1431.3 839.1M1404.2 834.6L1403.3 832.1M1434.2 839.5L1434.1 836.1M1403.6 863.6L1401.7 862.6M1401.8 855.7L1399.3 853.6M1427.8 866.6L1428.9 864.3M1400.4 848.5L1398.8 844.9M1427.7 848.4L1428.1 844.7M1454.6 862.1L1457.0 861.1M1437.0 848.6L1437.2 846.3M1431.9 873.4L1434.2 871.3M1429.5 840.2L1429.1 837.8M1455.5 843.4L1458.8 840.9M1411.3 879.7L1406.9 880.2M1430.6 891.9L1431.7 894.9M1423.3 844.2L1423.5 842.0M1423.8 875.5L1422.5 873.5M1428.8 844.3L1429.3 841.2M1447.6 837.8L1449.1 836.3M1453.0 874.0L1454.9 874.1M1426.4 840.0L1426.6 837.6M1419.1 859.1L1418.9 855.5M1429.8 877.3L1432.5 875.3M1455.5 854.5L1457.5 852.0M1432.8 890.8L1433.6 892.4M1400.3 851.9L1398.0 849.7M1446.4 880.5L1450.1 879.8M1437.3 838.3L1438.0 835.3M1430.6 851.8L1431.1 849.1M1417.3 876.3L1415.4 875.9M1419.5 834.1L1419.2 830.7M1411.1 879.7L1409.1 880.2M1425.4 830.3L1424.9 826.2M1437.0 875.8L1440.4 874.3M1417.2 838.1L1417.2 835.9M1422.9 893.1L1422.3 895.0M1446.3 850.0L1447.8 847.7M1420.3 857.9L1419.7 854.8M1454.0 875.2L1456.4 874.3M1442.7 842.8L1443.8 838.9M1417.8 843.8L1417.0 842.1M1425.8 842.4L1424.8 838.5" stroke="#808080" stroke-width="0.8" fill="none" stroke-linecap="round"/>
<path d="M1459.9 863.3L1461.8 863.1M1441.3 852.4L1443.0 849.9M1414.8 879.2L1412.3 879.9M1428.4 846.3L1427.7 843.2M1418.3 857.5L1417.2 855.7M1430.0 887.5L1432.0 890.1M1407.9 857.2L1406.4 853.5M1426.7 845.9L1426.8 844.1M1444.2 855.0L1445.1 853.0M1430.9 856.4L1431.8 854.7M1436.1 835.8L1436.6 832.6M1438.7 847.9L1438.7 844.1M1425.5 846.0L1425.3 843.8M1406.9 840.8L1405.5 838.5M1460.7 848.7L1461.7 847.2M1456.4 827.9L1458.4 825.5M1439.2 854.8L1440.3 850.7M1428.0 872.9L1429.4 869.3M1446.0 840.3L1447.8 837.3M1417.0 844.9L1415.7 840.8M1422.6 866.1L1422.5 863.0M1430.4 848.7L1429.9 844.3M1402.7 857.9L1401.4 856.0M1422.6 868.6L1420.8 864.9M1419.3 886.7L1417.0 889.9M1405.1 851.0L1403.2 848.3M1419.9 875.1L1417.7 874.0M1434.2 845.0L1434.2 842.6M1450.2 868.9L1453.4 866.2M1396.2 857.4L1392.9 855.2M1440.4 851.7L1441.0 848.8M1404.9 829.5L1403.9 826.9M1449.9 843.2L1451.3 839.2M1415.4 839.4L1414.4 836.4M1462.5 855.2L1466.1 853.2M1451.9 865.8L1454.8 863.9M1449.1 840.5L1450.2 836.5M1461.1 854.3L1464.9 852.3M1427.9 865.9L1427.7 862.6M1415.1 859.4L1413.8 857.1M1412.7 880.4L1409.4 880.5M1414.5 845.8L1412.7 841.8M1451.8 840.2L1452.9 838.1M1418.7 850.5L1417.9 846.4M1454.3 854.1L1456.4 851.8M1435.9 846.7L1435.4 842.3M1433.9 860.7L1435.4 857.5M1451.6 859.3L1453.8 858.4M1404.6 843.3L1402.3 841.0M1427.7 887.3L1428.6 889.4M1433.5 854.1L1435.0 851.8M1424.5 870.6L1424.7 867.8M1448.5 862.6L1451.3 859.2M1435.8 843.7L1435.6 840.1M1412.6 832.7L1411.8 830.7M1453.6 839.2L1455.9 835.8M1435.2 865.6L1437.2 863.8M1419.7 872.7L1417.9 869.7M1458.1 872.8L1460.4 872.1M1410.6 831.6L1409.2 827.6M1449.5 832.7L1450.3 829.3M1445.2 834.4L1447.0 832.0M1404.7 858.7L1402.1 855.2M1405.3 882.0L1403.4 881.7M1430.6 834.8L1430.1 831.5M1443.2 880.4L1446.8 879.7M1402.6 857.2L1400.8 856.0M1452.9 825.1L1455.8 821.9M1398.8 852.8L1396.9 851.8M1460.4 858.7L1463.2 857.0M1404.3 830.2L1402.8 827.8M1404.7 845.8L1403.2 842.7M1434.7 857.5L1436.0 854.9M1414.0 846.9L1412.9 843.7M1420.5 843.1L1420.4 840.3M1436.3 838.9L1437.1 834.6M1456.3 843.1L1458.2 840.2M1434.8 871.7L1436.6 869.7M1423.3 832.6L1423.3 830.3M1404.9 876.6L1402.7 876.9M1456.8 863.7L1459.3 862.4M1421.1 873.6L1418.1 870.8M1429.1 837.8L1429.3 835.3M1456.5 864.1L1459.4 862.1M1459.4 862.4L1462.3 861.0M1449.0 836.5L1450.2 834.9M1417.2 880.7L1415.0 880.9M1427.9 878.4L1429.9 877.8M1421.5 831.8L1421.5 827.6M1403.9 837.8L1402.7 835.2M1427.3 837.1L1427.5 833.1M1444.4 848.9L1446.8 846.2M1431.2 866.9L1432.4 863.7M1409.4 882.3L1406.9 882.8M1428.0 861.6L1428.4 859.6M1429.7 864.2L1430.1 862.2M1435.3 836.8L1435.1 832.6M1428.9 884.9L1430.5 886.5M1409.0 886.5L1405.7 888.7M1436.3 867.3L1437.8 865.2M1428.8 840.3L1429.8 836.0M1406.1 884.2L1403.5 884.7M1428.4 864.8L1428.7 863.0M1444.3 845.2L1445.0 843.1M1430.4 889.9L1432.4 892.2M1428.9 861.7L1430.1 859.2M1453.2 874.9L1456.2 874.9M1458.4 859.8L1461.9 857.8M1454.0 852.4L1456.3 850.8M1443.5 842.8L1445.6 839.4M1414.4 845.3L1413.7 843.4M1415.3 839.3L1414.4 836.2M1423.9 870.8L1423.9 868.6M1459.3 859.6L1462.4 857.4M1409.8 888.7L1405.9 890.8M1434.2 847.0L1433.8 844.7M1404.7 840.5L1403.0 837.8M1411.0 874.8L1407.5 873.0M1449.8 876.0L1452.7 875.1M1410.4 857.2L1408.7 853.9M1450.2 825.6L1451.7 822.2M1446.3 841.3L1448.5 839.0M1454.6 860.0L1458.3 858.1M1413.0 882.9L1409.9 884.6M1437.7 846.0L1437.2 842.1M1430.9 869.2L1432.8 866.4M1405.5 876.6L1403.8 876.0M1452.2 842.8L1453.5 839.3M1416.1 886.7L1414.2 888.2M1444.7 883.2L1447.3 883.2M1415.5 842.8L1414.9 840.2M1446.3 841.2L1447.1 839.5M1453.2 852.2L1454.3 850.4M1411.3 840.0L1410.7 837.7M1441.9 853.7L1443.3 849.6M1400.2 863.8L1397.9 862.8M1418.7 860.8L1417.1 857.3M1424.9 838.7L1424.9 835.5M1427.0 840.0L1427.7 835.8M1405.5 847.5L1403.4 845.6M1452.2 832.5L1453.9 829.9M1432.1 849.4L1431.7 846.5M1455.8 855.2L1460.0 853.5M1453.1 868.6L1455.6 866.8M1406.1 833.9L1404.7 832.3M1409.9 879.4L1407.8 880.0M1449.2 854.2L1452.0 852.2M1451.3 855.6L1453.6 852.0M1428.8 859.3L1428.6 856.9M1410.4 834.0L1409.6 831.8M1402.3 858.2L1399.3 855.9M1430.8 877.8L1433.3 876.5M1425.7 867.7L1424.5 863.4M1426.4 866.4L1425.7 862.7M1447.2 852.3L1448.2 850.1M1436.0 842.3L1436.2 840.1M1423.1 881.2L1421.7 882.3M1453.0 881.0L1455.8 881.0M1438.2 886.0L1440.9 888.2M1459.8 855.5L1463.4 853.8M1444.7 847.5L1446.0 843.6M1434.1 844.5L1434.4 841.7M1454.6 865.4L1458.7 864.3M1426.1 864.6L1426.8 861.7M1456.4 862.0L1458.2 860.7M1430.0 855.6L1430.5 853.3M1424.1 843.0L1424.6 838.6M1419.7 849.5L1419.8 847.0M1404.2 837.8L1402.0 834.8M1442.3 833.5L1442.5 831.2M1418.9 889.9L1417.6 893.8M1416.6 851.1L1416.0 849.3M1432.0 885.8L1433.4 887.1M1429.9 857.5L1429.9 853.9M1451.6 824.6L1452.2 821.7M1414.4 858.3L1412.0 855.9M1420.6 866.8L1418.1 863.3M1450.0 871.0L1453.0 870.3M1428.6 892.3L1429.2 894.3M1461.4 857.6L1464.1 855.6M1456.0 858.8L1457.8 858.1M1419.7 860.9L1418.7 859.1M1400.9 857.9L1397.8 856.1M1426.9 831.5L1427.3 827.8M1454.6 873.5L1458.1 872.6M1452.3 860.1L1455.0 857.4M1402.8 847.1L1401.7 843.8M1454.6 860.8L1457.7 858.3M1424.0 874.9L1423.3 873.2M1432.1 846.1L1432.3 842.0M1454.3 843.5L1456.1 840.9M1446.7 875.8L1450.7 874.7M1441.2 861.1L1443.8 859.0M1409.4 853.5L1407.5 850.2M1453.9 836.0L1454.8 834.4M1413.4 888.4L1410.6 889.4M1442.6 855.1L1443.9 853.1M1449.5 839.7L1451.4 836.9M1401.0 851.3L1399.1 849.8M1401.5 872.1L1399.6 871.9M1429.6 853.4L1430.9 849.5M1427.1 834.2L1426.9 830.6M1449.0 843.5L1450.4 842.0M1444.3 848.1L1445.8 845.3M1411.9 880.6L1408.8 881.7M1402.9 880.3L1399.3 881.1M1460.7 849.7L1463.4 847.2M1455.1 840.7L1456.7 838.6M1405.8 832.6L1404.2 828.8M1423.2 869.9L1422.5 867.6M1421.7 886.5L1420.9 888.6M1452.2 880.6L1454.2 880.6M1428.6 852.8L1428.0 849.0M1456.4 846.8L1458.1 843.8M1438.1 863.6L1440.0 861.8M1425.2 882.8L1425.3 885.6M1456.4 834.5L1458.7 831.2M1441.0 853.9L1442.3 852.0M1436.7 848.4L1435.7 844.3M1408.0 843.6L1406.0 840.3M1459.6 866.9L1461.7 866.0M1420.1 851.5L1420.9 848.0M1398.8 859.1L1395.1 856.5M1422.7 846.8L1423.5 843.5M1448.2 853.4L1449.5 852.0M1437.5 841.6L1437.1 839.3M1444.0 843.2L1445.4 841.1M1447.6 837.1L1448.1 834.7M1442.3 862.2L1446.2 860.0M1416.3 835.7L1416.4 833.8M1421.7 891.1L1419.3 894.6M1459.6 863.4L1461.4 862.8M1410.7 859.1L1408.8 857.5M1440.3 855.8L1442.8 853.4M1402.6 862.1L1399.6 860.4M1451.2 861.4L1453.1 859.6M1455.5 868.9L1457.4 867.7M1399.9 849.1L1398.3 846.9M1434.3 833.3L1434.6 829.2M1403.4 844.9L1401.0 841.7M1436.4 832.3L1435.9 830.3M1423.3 890.4L1423.6 894.2M1417.6 844.6L1417.3 840.5M1446.8 861.7L1449.7 858.7M1448.1 832.3L1449.4 830.5M1443.6 856.9L1444.9 854.5M1396.8 855.2L1393.2 853.2M1431.2 891.1L1434.1 894.3M1455.0 839.9L1456.0 837.2M1452.6 851.1L1454.5 849.7M1453.7 823.0L1454.8 821.1M1410.5 864.1L1408.7 861.1M1426.7 832.7L1426.8 829.1M1428.5 889.1L1430.2 892.0M1452.8 825.4L1453.4 821.8M1424.7 878.6L1421.8 875.9M1421.2 884.0L1418.9 886.2M1431.6 856.7L1431.7 853.0M1445.0 867.9L1446.6 867.0M1438.3 859.5L1439.9 857.7M1455.6 869.1L1458.6 867.5M1446.8 837.0L1447.8 834.8M1448.3 837.3L1449.7 834.7M1416.2 875.4L1411.8 874.7M1456.6 843.7L1458.4 841.6M1429.1 835.9L1429.1 833.7M1447.2 828.5L1447.7 826.6M1421.0 892.2L1420.2 893.9M1416.8 881.8L1414.2 882.8M1437.5 879.8L1439.6 880.1M1410.7 845.3L1408.8 842.1M1453.7 843.3L1455.6 840.8M1422.6 870.4L1421.9 867.8M1434.4 848.8L1434.1 844.6M1411.8 843.0L1410.4 839.0M1415.3 860.6L1413.7 858.3M1426.7 869.6L1426.3 865.6M1428.0 838.9L1427.2 834.5M1452.4 879.8L1455.8 878.9M1414.2 860.6L1412.9 858.6M1440.5 834.2L1441.2 830.4M1426.0 891.1L1426.1 894.2M1423.1 850.6L1423.6 848.3M1403.2 861.2L1401.9 859.9M1454.1 848.4L1455.8 846.6M1407.3 848.6L1405.7 846.5M1405.3 862.4L1403.2 861.6M1425.7 849.7L1425.5 846.3M1419.7 857.7L1419.1 855.4M1435.7 847.7L1435.2 844.6M1421.7 885.2L1419.7 888.8M1432.8 882.2L1434.4 883.0M1457.2 865.5L1460.3 863.5M1405.2 876.1L1402.5 876.3M1456.2 862.4L1458.2 860.7M1451.5 827.6L1453.1 824.5M1434.6 831.4L1433.8 828.0M1458.8 867.3L1461.8 866.2M1453.5 837.8L1455.6 835.7M1406.3 827.9L1405.2 826.4M1421.6 854.5L1421.1 850.3M1449.6 885.4L1453.3 887.1M1409.4 888.0L1406.7 889.3M1446.9 851.4L1448.6 849.3M1422.8 845.7L1422.4 841.9M1439.4 846.5L1439.2 842.3M1434.4 864.8L1435.5 861.3M1454.3 826.8L1455.6 825.2M1403.2 880.2L1400.0 880.8M1401.8 860.6L1399.6 857.6M1436.0 839.9L1435.8 836.6M1410.9 838.1L1409.1 834.2M1449.6 828.9L1450.9 825.4M1423.1 881.1L1421.1 884.0M1447.8 859.9L1451.4 857.4M1404.3 837.8L1403.7 835.2M1431.4 843.9L1430.6 840.8M1426.2 836.8L1426.0 833.3M1397.2 864.2L1394.6 863.1M1421.3 879.0L1417.9 878.5" stroke="#606060" stroke-width="0.8" fill="none" stroke-linecap="round"/>
<path d="M1431.2 847.9L1430.6 845.0M1450.7 834.4L1452.3 832.1M1426.1 833.5L1426.4 831.3M1427.5 850.4L1427.4 848.3M1435.1 855.2L1436.5 852.1M1427.0 889.6L1427.2 891.5M1456.0 836.0L1457.6 833.6M1423.3 847.2L1423.0 844.2M1430.6 838.6L1430.1 836.3M1406.4 846.5L1405.2 845.1M1444.9 861.4L1448.1 858.5M1455.1 852.6L1457.4 851.0M1443.7 858.6L1446.1 856.6M1430.9 839.1L1430.0 834.8M1426.9 842.3L1428.0 838.0M1445.4 839.7L1447.1 835.9M1457.4 861.4L1459.6 860.0M1432.7 850.0L1432.1 845.8M1452.7 826.1L1453.9 822.4M1397.4 855.8L1396.1 853.9M1407.6 855.7L1404.2 853.1M1404.9 847.4L1403.7 843.6M1456.9 854.5L1459.8 853.4M1420.1 848.1L1419.6 845.8M1422.2 838.5L1421.4 835.4M1431.3 855.7L1431.2 853.8M1396.2 859.1L1394.6 858.0M1428.2 879.4L1430.9 879.7M1441.9 840.0L1442.2 836.3M1439.7 835.5L1439.5 832.9M1450.6 831.9L1453.1 828.8M1416.3 856.6L1413.7 853.2M1439.7 836.5L1439.9 833.2M1450.2 828.1L1451.4 826.3M1417.8 839.6L1416.9 836.9M1431.8 848.7L1432.2 844.5M1454.4 852.0L1456.0 851.1M1447.5 861.3L1450.7 858.6M1437.6 852.4L1439.8 848.5M1453.8 856.7L1456.3 854.4M1431.6 860.3L1431.7 857.5M1450.0 842.4L1451.9 838.9M1416.5 840.0L1416.0 837.8M1416.4 838.3L1415.6 835.7M1404.4 851.7L1401.7 849.8M1424.0 840.3L1423.9 837.4M1450.1 846.1L1451.4 842.3M1423.2 882.5L1421.1 886.3M1448.0 845.9L1449.4 843.3M1411.3 852.0L1409.6 849.3M1414.0 839.0L1413.0 835.0M1424.4 881.5L1423.2 884.3M1407.1 851.9L1405.3 848.1M1427.7 879.1L1430.4 878.6M1420.8 850.6L1421.2 847.9M1415.6 849.7L1413.6 846.1M1419.1 857.7L1417.7 855.5M1421.8 887.3L1421.1 889.8M1429.6 889.0L1430.0 890.8M1431.8 839.4L1431.7 837.1M1456.3 843.4L1458.7 839.7M1405.2 853.7L1402.8 851.4M1418.8 838.0L1419.2 835.6M1429.5 831.7L1430.0 827.5M1433.4 855.4L1434.4 852.6M1424.7 840.3L1424.1 836.5M1424.5 884.2L1423.4 887.9M1451.7 849.8L1454.5 848.0M1440.9 839.8L1441.5 836.5M1401.9 822.7L1401.4 820.5M1427.5 848.0L1427.3 845.9M1437.6 837.6L1437.5 835.1M1456.2 863.9L1457.9 863.2M1456.1 825.9L1459.3 822.8M1412.6 845.0L1411.6 842.6M1454.4 847.1L1456.6 845.8M1444.1 859.3L1445.4 857.5M1452.9 862.9L1456.5 860.8M1409.0 854.4L1407.1 852.4M1437.5 844.6L1437.0 841.4M1449.7 860.2L1453.0 858.4M1429.9 855.2L1429.8 853.3M1428.5 889.1L1429.7 893.0M1398.8 862.0L1395.6 859.8M1427.4 832.1L1426.8 829.0M1422.1 836.1L1422.6 833.0M1430.5 845.3L1429.6 841.2M1451.4 850.9L1454.4 848.1M1411.6 851.6L1410.2 849.4M1455.7 829.9L1457.1 827.0M1429.9 885.2L1430.9 887.3M1425.3 882.3L1424.7 884.9M1403.3 845.9L1401.4 843.4M1456.3 853.1L1458.5 850.1M1447.3 836.8L1450.3 833.7M1414.4 839.8L1414.0 835.8M1410.6 846.2L1409.5 844.7M1425.8 836.6L1425.3 832.4M1415.7 840.4L1414.6 836.5M1400.9 848.8L1398.7 846.6M1457.2 852.3L1458.8 850.3M1430.5 838.7L1430.2 836.7M1415.2 844.1L1414.2 842.5M1448.9 839.7L1449.7 837.6M1446.4 834.0L1446.9 831.2M1431.7 850.5L1431.5 846.8M1420.4 857.3L1420.7 853.8M1455.1 829.5L1457.5 827.0M1432.2 836.1L1432.6 833.3M1427.3 840.1L1426.9 838.1M1395.6 858.6L1393.4 856.6M1398.3 855.0L1395.9 852.3M1447.6 853.1L1448.8 851.5M1417.6 839.3L1416.6 834.9M1418.5 848.8L1419.1 846.0M1456.3 833.8L1459.1 830.8M1449.2 865.3L1452.7 862.8M1418.4 849.2L1418.8 846.5M1455.3 880.3L1458.1 880.3M1450.4 842.7L1453.2 840.2M1412.1 858.2L1410.5 856.8M1430.8 835.5L1430.3 832.9M1434.8 851.9L1434.8 848.3M1446.3 838.5L1447.1 836.6M1421.7 835.7L1422.3 833.1M1428.4 880.2L1431.6 882.7M1437.7 853.7L1439.2 850.4M1433.8 838.1L1434.2 835.7M1415.1 855.5L1414.3 853.8M1440.1 854.9L1441.3 851.7M1426.6 891.0L1425.8 895.4M1425.7 888.3L1426.0 892.0M1401.0 859.7L1398.2 858.1M1421.5 837.6L1421.3 834.4M1454.2 849.5L1456.1 846.7M1407.2 855.9L1405.2 853.5M1400.0 856.9L1397.5 855.2M1432.9 854.9L1433.4 851.6M1454.1 827.0L1457.1 823.7M1447.0 841.4L1448.5 838.8M1428.5 837.9L1428.5 834.2M1459.7 850.6L1462.2 848.8M1398.1 863.1L1395.2 860.5M1428.8 858.2L1428.9 854.4M1413.0 852.6L1411.7 849.9M1397.5 851.2L1395.6 849.0M1448.8 852.7L1450.3 851.7M1428.7 859.7L1428.5 856.1M1430.7 879.3L1434.7 878.6M1455.7 832.4L1457.1 831.1M1400.5 850.5L1397.1 847.9M1434.8 853.0L1435.7 850.4M1398.7 851.8L1396.1 850.2M1398.4 853.6L1396.3 851.7M1426.6 851.2L1426.8 849.2M1431.7 852.3L1432.1 849.2M1440.7 860.1L1441.9 857.6M1415.6 846.2L1414.2 842.7M1434.2 853.8L1435.5 850.1M1427.1 845.3L1427.2 843.2M1404.3 859.8L1403.1 858.1M1422.5 876.0L1421.1 873.5M1453.1 860.2L1454.9 859.0M1434.1 851.9L1434.3 850.0M1425.9 831.8L1425.1 827.9M1450.5 834.5L1452.3 830.5M1456.6 858.8L1458.8 857.5M1443.4 852.8L1444.4 850.7M1446.4 846.1L1448.2 844.5M1452.9 829.8L1454.6 825.9M1419.6 858.7L1419.5 855.8M1406.2 854.0L1404.2 852.3M1427.8 879.5L1431.1 881.0M1432.8 853.6L1433.7 851.1M1450.7 856.9L1453.2 854.0M1458.1 853.3L1460.6 851.0M1456.4 832.9L1458.8 829.7M1410.5 853.7L1409.5 850.7M1437.3 854.2L1438.2 850.2M1443.6 855.1L1446.6 852.2M1425.3 889.5L1426.0 892.2M1412.0 849.1L1410.3 847.2M1437.1 848.8L1437.8 844.7M1447.5 833.7L1448.6 829.8M1431.2 833.6L1430.6 830.9M1449.6 840.5L1451.9 836.8M1425.1 847.3L1425.1 844.7M1418.2 857.7L1417.4 855.7M1452.1 838.4L1453.5 836.8M1429.9 860.6L1430.7 857.7M1442.7 851.9L1443.6 850.3M1418.9 839.4L1418.7 836.6M1423.8 879.7L1421.9 880.3M1452.0 855.2L1455.2 853.6M1429.5 854.0L1429.3 851.8M1461.3 854.5L1464.6 852.0M1432.6 845.0L1432.6 841.0M1423.2 858.1L1423.6 854.8M1418.1 842.0L1418.6 839.2M1435.9 861.5L1436.9 857.9M1424.0 882.4L1423.0 886.7M1423.0 834.8L1423.4 831.9M1450.3 825.8L1451.2 822.8M1419.5 890.7L1417.9 892.4M1399.9 855.6L1397.9 853.2M1460.2 857.4L1462.2 855.8M1424.4 846.8L1424.3 844.6M1413.6 841.3L1411.5 837.7M1402.6 845.3L1401.0 843.9M1460.5 854.6L1461.7 853.1M1460.7 855.1L1463.2 852.9M1442.3 855.8L1443.8 853.5M1440.2 857.2L1441.8 855.3M1396.6 861.4L1393.2 858.5M1417.8 836.4L1416.8 833.7M1452.5 823.3L1453.9 821.0M1432.2 856.5L1434.2 852.8M1422.3 856.9L1422.6 853.3M1410.0 845.7L1408.1 842.3M1440.5 835.9L1440.0 832.9M1455.6 853.9L1457.9 852.9M1448.8 852.8L1450.0 850.6M1427.6 831.6L1428.0 827.9" stroke="#404040" stroke-width="0.8" fill="none" stroke-linecap="round"/>
<path d="M1423.5 881.6L1421.8 884.6M1453.7 842.3L1454.8 839.9M1455.0 830.7L1457.2 827.2M1400.8 854.2L1399.8 852.5M1409.8 852.2L1408.0 849.0M1407.5 855.2L1406.6 853.2M1405.2 852.3L1402.4 850.2M1410.1 853.9L1409.3 851.6M1447.7 830.7L1448.6 826.8M1450.5 833.9L1451.3 832.2M1455.5 855.1L1458.2 853.7M1438.6 854.3L1439.7 852.6M1453.4 834.8L1454.9 833.0M1414.6 855.2L1414.2 851.6M1408.8 851.5L1406.3 849.0M1454.6 831.3L1457.2 828.1M1431.5 856.6L1433.1 853.2M1419.8 855.0L1419.2 853.3M1449.9 831.0L1450.7 827.6M1417.3 856.5L1415.3 852.8M1427.7 886.8L1428.4 888.5M1421.9 884.3L1420.2 886.6M1415.0 857.9L1414.1 855.0M1406.1 859.0L1403.5 857.3M1430.5 857.2L1430.5 852.8M1435.2 855.0L1436.8 852.5M1426.9 886.2L1427.5 889.3M1435.5 860.7L1436.3 858.2M1426.1 888.4L1425.5 891.3M1451.2 834.6L1453.2 832.7M1453.3 828.8L1455.2 825.7M1414.2 850.2L1413.8 848.4M1447.5 834.2L1448.4 831.4M1452.8 826.5L1454.9 823.6M1432.6 857.1L1433.9 853.0M1407.4 855.5L1406.2 853.3M1438.9 855.5L1440.2 852.5M1416.7 853.1L1414.9 849.8M1415.6 856.0L1414.3 852.0M1429.5 856.9L1431.1 853.0M1416.5 856.2L1414.6 852.4M1453.6 837.5L1454.3 835.4M1449.4 830.3L1450.4 828.5M1449.7 829.4L1450.3 826.1M1443.3 854.4L1445.1 851.4M1429.9 883.3L1431.6 884.9M1439.6 860.0L1441.7 856.5M1441.0 857.5L1441.9 855.4M1433.6 860.5L1435.1 858.3M1407.0 853.1L1405.6 850.9M1445.7 858.0L1446.9 856.2M1404.8 851.1L1402.1 848.2M1395.8 856.9L1393.4 854.2M1448.4 832.6L1450.1 828.7M1449.7 843.5L1451.4 839.4M1452.0 845.4L1452.9 843.3M1451.3 835.7L1451.9 833.5M1401.3 856.5L1398.8 855.0M1454.5 833.4L1455.7 830.9M1441.1 855.0L1442.9 852.7M1439.6 853.4L1441.4 849.4M1452.3 833.0L1455.3 829.6M1429.2 883.2L1431.6 886.3M1456.5 831.4L1458.4 827.6M1454.2 857.2L1456.3 856.2M1397.5 856.7L1395.4 854.5M1426.7 880.1L1428.1 882.1" stroke="#202020" stroke-width="0.8" fill="none" stroke-linecap="round"/>
<path d="M1435.8 856.0L1438.0 852.6M1442.6 857.6L1444.0 856.1M1453.7 837.1L1455.0 835.0M1436.3 857.4L1437.3 854.1M1437.7 854.3L1439.3 851.8M1414.2 853.8L1412.9 850.2M1409.3 853.3L1406.3 850.0M1453.6 830.3L1456.4 827.4M1435.4 854.9L1436.2 853.0M1408.4 852.5L1407.5 849.4M1408.9 855.0L1407.4 853.4M1426.4 882.5L1426.7 886.2M1452.1 843.8L1454.1 842.2M1434.3 859.3L1437.1 856.0M1427.3 882.3L1428.0 884.8M1426.4 883.7L1427.3 886.1M1445.3 857.2L1447.6 853.6M1416.1 855.1L1414.9 853.1M1455.0 837.8L1455.7 835.9M1411.4 857.9L1409.3 855.6M1437.4 860.2L1439.2 857.1M1436.7 857.4L1438.6 854.2" stroke="#000000" stroke-width="0.8" fill="none" stroke-linecap="round"/>
<path d="M1410 856l5.5 -1.6l2.6 2.6l-4.5 1.2z M1432.5 857.3l3.8 -2l5.2 .8l-3.8 2.8z" fill="#161616"/>
<path d="M1421.5 881.5q4 -2 7.5 0l-1.5 5.5l-2 3.4l-2.2 -3.4z" fill="#0c0c0c"/>
<path d="M1401.5 821.5l2.5 20 M1456 821.5l-1 22 M1401.5 821.5l16 13 M1456 821.5l-13 10" stroke="#3a3a3a" stroke-width="0.9" fill="none"/>
</g></g>
</svg>
</body>
</html>
